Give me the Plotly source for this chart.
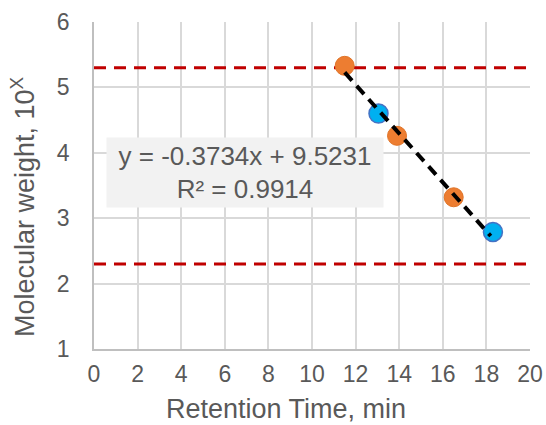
import plotly.graph_objects as go

# Data
orange_x = [11.5, 13.9, 16.5]
orange_y = [5.33, 4.26, 3.32]
blue_x = [13.05, 18.3]
blue_y = [4.6, 2.79]
slope = -0.3734
intercept = 9.5231
r2 = 0.9914
limits = [5.3, 2.3]
x_ticks = list(range(0, 21, 2))
y_ticks = [1, 2, 3, 4, 5, 6]

font_fam = "Liberation Sans, Arial, sans-serif"
txt_col = "#595959"

fig = go.Figure()

# red dashed limit lines
for lv in limits:
    fig.add_trace(go.Scatter(x=[0, 20], y=[lv, lv], mode="lines",
                             line=dict(color="#C00000", width=3, dash="12px,8px"),
                             showlegend=False, hoverinfo="skip"))

fig.add_trace(go.Scatter(x=orange_x, y=orange_y, mode="markers",
                         marker=dict(size=19, color="#ED7D31", line=dict(color="#E07428", width=1)),
                         showlegend=False))
fig.add_trace(go.Scatter(x=blue_x, y=blue_y, mode="markers",
                         marker=dict(size=19, color="#00B0F0", line=dict(color="#4472C4", width=1.5)),
                         showlegend=False))

all_x = orange_x + blue_x
tx = [min(all_x), max(all_x) - 0.1]
ty = [slope * v + intercept for v in tx]
fig.add_trace(go.Scatter(x=tx, y=ty, mode="lines",
                         line=dict(color="black", width=4, dash="11px,7px"),
                         showlegend=False, hoverinfo="skip"))

fig.add_annotation(x=6.93, y=3.70, xref="x", yref="y",
                   text=f"y = {slope}x + {intercept}<br>R² = {r2}",
                   showarrow=False, align="center",
                   font=dict(family=font_fam, size=26, color=txt_col),
                   bgcolor="#F2F2F2", borderpad=0, width=276, height=69)

# axis titles as annotations (positioned like the reference)
fig.add_annotation(x=-0.163, y=0.437, xref="paper", yref="paper",
                   text="Molecular weight, 10<sup>X</sup>", textangle=-90,
                   showarrow=False, xanchor="center", yanchor="middle",
                   font=dict(family=font_fam, size=27, color=txt_col))
fig.add_annotation(x=0.44, y=-0.182, xref="paper", yref="paper",
                   text="Retention Time, min",
                   showarrow=False, xanchor="center", yanchor="middle",
                   font=dict(family=font_fam, size=27, color=txt_col))

fig.update_layout(
    width=546, height=425,
    margin=dict(l=94, r=16, t=22, b=76),
    paper_bgcolor="white", plot_bgcolor="white",
    font=dict(family=font_fam, color=txt_col, size=23),
    xaxis=dict(range=[0, 20], tickvals=x_ticks, showgrid=True, gridcolor="#D9D9D9", gridwidth=1.5,
               zeroline=False, showline=True, linecolor="#BFBFBF", linewidth=1.5,
               ticks="", ticklabelstandoff=4, automargin=False,
               tickfont=dict(size=23)),
    yaxis=dict(range=[1, 6], tickvals=y_ticks, showgrid=True, gridcolor="#D9D9D9", gridwidth=1.5,
               zeroline=False, showline=True, linecolor="#BFBFBF", linewidth=1.5,
               ticks="", ticklabelstandoff=18, automargin=False,
               tickfont=dict(size=23)),
)

fig.write_html(
    "out.html",
    config={"displayModeBar": False},
    post_script=(
        "document.documentElement.style.margin='0';"
        "document.documentElement.style.overflow='hidden';"
        "document.body.style.margin='0';"
        "document.body.style.overflow='hidden';"
    ),
)
